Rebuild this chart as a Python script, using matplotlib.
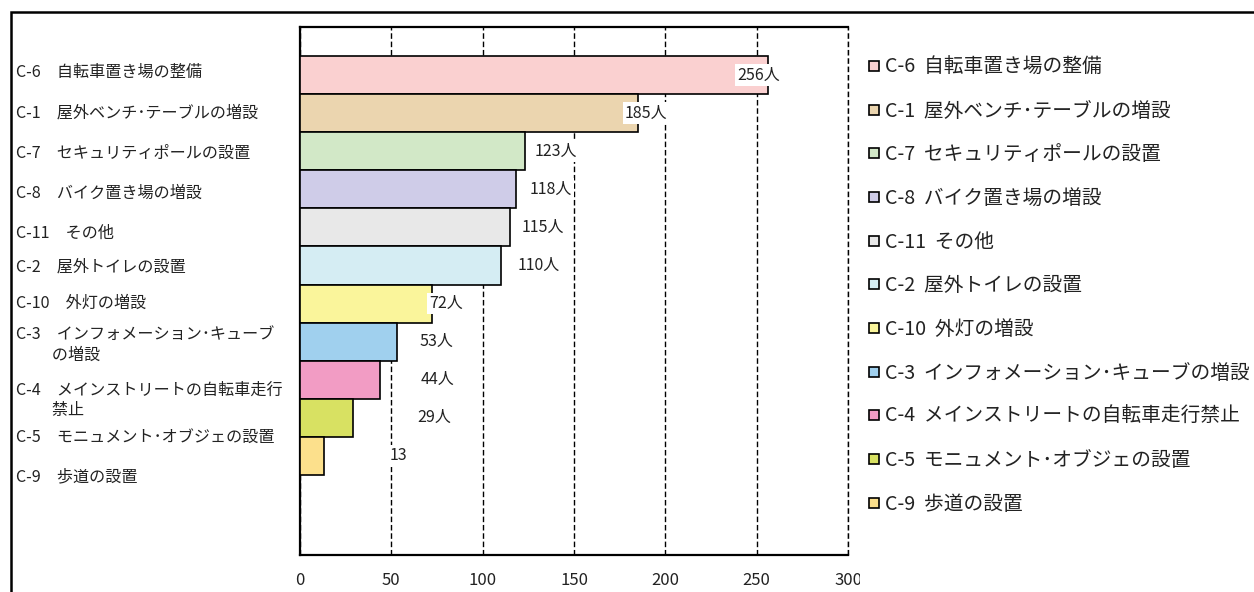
import matplotlib
matplotlib.use("Agg")
import matplotlib.pyplot as plt
import numpy as np
from matplotlib.patches import Rectangle
from matplotlib.lines import Line2D
from matplotlib.transforms import blended_transform_factory, Bbox, TransformedBbox

plt.rcParams['font.family'] = ['Noto Sans CJK JP', 'DejaVu Sans']

# data
codes = ["C-6", "C-1", "C-7", "C-8", "C-11", "C-2", "C-10", "C-3", "C-4", "C-5", "C-9"]
names = ["自転車置き場の整備", "屋外ベンチ･テーブルの増設", "セキュリティポールの設置",
         "バイク置き場の増設", "その他", "屋外トイレの設置", "外灯の増設",
         "インフォメーション･キューブの増設", "メインストリートの自転車走行禁止",
         "モニュメント･オブジェの設置", "歩道の設置"]
# axis labels wrap like the original
axis_names = ["自転車置き場の整備", "屋外ベンチ･テーブルの増設", "セキュリティポールの設置",
              "バイク置き場の増設", "その他", "屋外トイレの設置", "外灯の増設",
              "インフォメーション･キューブ\n　　 の増設", "メインストリートの自転車走行\n　　 禁止",
              "モニュメント･オブジェの設置", "歩道の設置"]
values = [256, 185, 123, 118, 115, 110, 72, 53, 44, 29, 13]
value_texts = ["256人", "185人", "123人", "118人", "115人", "110人", "72人", "53人", "44人", "29人", "13"]
colors = ["#FAD0D0", "#EBD5AF", "#D2E8C7", "#CFCCE8", "#E8E8E8", "#D5EDF3",
          "#FAF59B", "#A0D0EE", "#F29CC4", "#D8E162", "#FCE08C"]

# layout tweaks (label offsets in pixels, axis-label drift in bar units)
label_dx = [-30, -13, 10, 14, 12, 17, -2, 23, 40, 64, 66]
axis_label_dy = [-0.06, 0, 0.05, 0.1, 0.15, 0.05, 0, 0.08, 0.55, 0.5, 0.55]

fig = plt.figure(figsize=(12.54, 5.92), dpi=100)
ax = fig.add_axes([300 / 1254, 1 - 555 / 592, 548 / 1254, 528 / 592])

y = np.arange(len(values))
ax.barh(y, values, height=1.0, color=colors, edgecolor="black", linewidth=1.2, zorder=3)

ax.set_xlim(0, 300)
ax.set_ylim(12.6, -1.26)
ax.set_xticks(np.arange(0, 301, 50))
ax.grid(axis="x", color="black", linestyle=(0, (4, 2)), linewidth=1.0, zorder=0)
ax.set_yticks([])
ax.tick_params(axis="x", length=0, pad=12, labelsize=12, labelcolor="#222222")
for s in ["left", "bottom", "top"]:
    ax.spines[s].set_linewidth(1.6)
ax.spines["right"].set_visible(False)
ax.axvline(300, color="black", linestyle=(0, (4, 2)), linewidth=1.0, clip_on=False, zorder=0)

# clip the "300" label like the original
clip = TransformedBbox(Bbox([[0, 0], [860 / 1254, 1]]), fig.transFigure)
fig.canvas.draw()
last = ax.get_xticklabels()[-1]
last.set_clip_box(clip)
last.set_clip_on(True)

# category labels on the left
tr = blended_transform_factory(fig.transFigure, ax.transData)
for i, (c, n) in enumerate(zip(codes, axis_names)):
    ax.text(16 / 1254, i + axis_label_dy[i], c + "　" + n, transform=tr, ha="left",
            va="center", fontsize=11.6, color="#222222", linespacing=1.25)

# value labels
for i, (v, t) in enumerate(zip(values, value_texts)):
    ax.annotate(t, xy=(v, i), xytext=(label_dx[i], 0), textcoords="offset pixels",
                ha="left", va="center", fontsize=11.5, color="#222222", zorder=5,
                bbox=dict(boxstyle="square,pad=0.15", facecolor="white", edgecolor="none"))

# legend
handles = [Line2D([], [], marker="s", linestyle="none", markersize=7,
                  markerfacecolor=col, markeredgecolor="black", markeredgewidth=1.2)
           for col in colors]
labels = [c + "  " + n for c, n in zip(codes, names)]
fig.legend(handles, labels, loc="upper left", bbox_to_anchor=(858 / 1254, 1 - 47 / 592),
           frameon=False, fontsize=14.2, labelspacing=1.15, handlelength=0.6,
           handletextpad=0.25, borderpad=0, labelcolor="#222222")

# outer frame
fig.add_artist(Rectangle((11 / 1254, -0.1), 1.2, 1.1 - 12 / 592, transform=fig.transFigure,
                         facecolor="none", edgecolor="black", linewidth=1.8))

fig.savefig("out.png", dpi=100)
